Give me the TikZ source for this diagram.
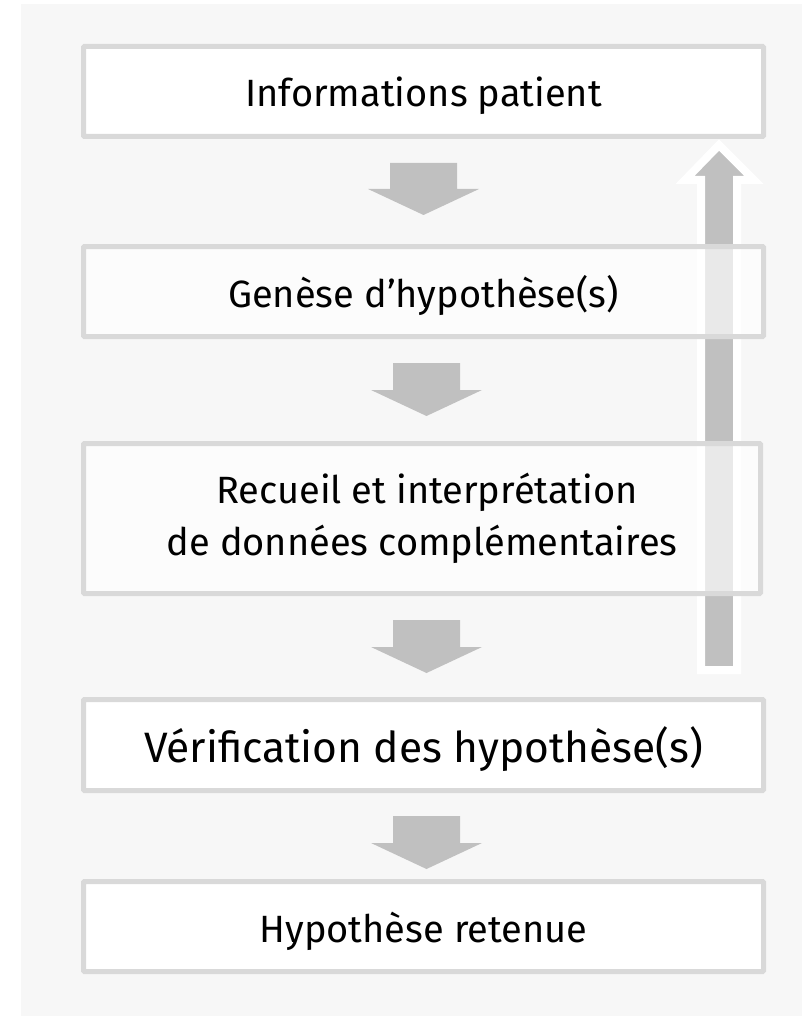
\documentclass[tikz,border=0pt]{standalone}
\usepackage{fontspec}
\setmainfont{Fira Sans}
\definecolor{bggray}{HTML}{F7F7F7}
\definecolor{boxline}{HTML}{D9D9D9}
\definecolor{arrowgray}{HTML}{C0C0C0}
\begin{document}
\begin{tikzpicture}[x=1pt,y=-1pt,
  stepbox/.style={rectangle, draw=boxline, line width=5pt, fill=white,
    minimum width=680pt, minimum height=90pt, inner sep=0pt,
    font=\fontsize{38}{52}\selectfont, text=black, align=center, rounded corners=1pt},
  oneline/.style={text height=31pt, text depth=0pt},
  seebox/.style={stepbox, fill opacity=0.65, text opacity=1},
  downarrow/.style={fill=arrowgray, draw=none},
  uparrow/.style={fill=arrowgray, draw=white, line width=8pt, line join=miter}
]
\useasboundingbox (0,0) rectangle (802,1016);
\fill[bggray] (21,4) rectangle (802,1016);

% return arrow (behind the middle boxes)
\coordinate (upbase) at (719,670);
\coordinate (uptip) at (719,145);
\draw[uparrow] (701,670) -- (701,180) -- (685,180) -- (uptip) -- (754,180) -- (737,180) -- (737,670) -- cycle;

\node[stepbox, oneline] (info) at (423.5,91.5) {Informations patient};
\node[seebox, oneline] (genese) at (423.5,291.5) {Genèse d’hypothèse(s)};
\node[seebox, minimum width=677pt, minimum height=150pt] (recueil) at (422,518.5) {\ Recueil et interprétation\\de données complémentaires};
\node[stepbox, oneline, minimum height=91pt, font=\fontsize{42.5}{52}\selectfont, text height=34pt] (verif) at (423.5,745) {Vérification des hypothèse(s)};
\node[stepbox, oneline] (retenue) at (423.5,926.5) {Hypothèse retenue};

% down arrows
\fill[downarrow] (390,163) -- (457,163) -- (457,189) -- (479,189) -- (423.5,215) -- (368,189) -- (390,189) -- cycle;
\fill[downarrow] (393,363) -- (460,363) -- (460,390) -- (482,390) -- (426.5,416) -- (371,390) -- (393,390) -- cycle;
\fill[downarrow] (393,620) -- (460,620) -- (460,647) -- (482,647) -- (426.5,673) -- (371,647) -- (393,647) -- cycle;
\fill[downarrow] (393,816) -- (460,816) -- (460,843) -- (482,843) -- (426.5,869) -- (371,843) -- (393,843) -- cycle;
\end{tikzpicture}
\end{document}
